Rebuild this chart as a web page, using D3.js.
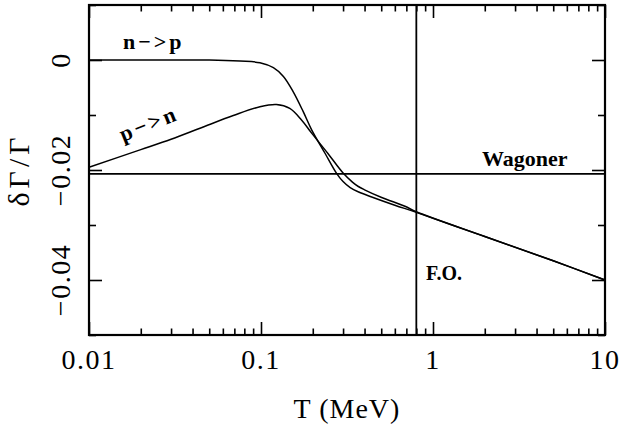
<!DOCTYPE html>
<html>
<head>
<meta charset="utf-8">
<script src="https://cdn.jsdelivr.net/npm/d3@7/dist/d3.min.js"></script>
<style>
  body { margin: 0; background: #fff; }
  svg { display: block; }
  .tick line { stroke: #000; stroke-width: 1.6; }
  .lbl { font-family: "Liberation Serif", serif; fill: #000; }
</style>
</head>
<body>
<div id="chart"></div>
<script>
var svgWidth = 622;
var svgHeight = 432;

var margin = { top: 5, right: 17, bottom: 97, left: 89 };
var width = svgWidth - margin.left - margin.right;
var height = svgHeight - margin.top - margin.bottom;

// n -> p rate correction vs temperature (MeV)
var npT = [0.01, 0.03, 0.05, 0.0755, 0.0986, 0.118, 0.135, 0.154, 0.176, 0.197, 0.236, 0.275, 0.30, 0.33, 0.37, 0.44, 0.6, 0.8, 2, 5, 10];
var npV = [0, 0, 0, -0.0002, -0.0005, -0.0014, -0.003, -0.0058, -0.0094, -0.0127, -0.017, -0.0206, -0.0221, -0.0232, -0.0240, -0.0249, -0.0264, -0.0277, -0.0321, -0.0365, -0.040];

// p -> n rate correction
var pnT = [0.01, 0.02, 0.03, 0.0442, 0.069, 0.0986, 0.123, 0.147, 0.172, 0.197, 0.245, 0.301, 0.34, 0.368, 0.4, 0.503, 0.687, 0.8, 2, 5, 10];
var pnV = [-0.0195, -0.0163, -0.0144, -0.0124, -0.0101, -0.0085, -0.0081, -0.0088, -0.0109, -0.0133, -0.017, -0.0206, -0.0222, -0.0230, -0.0236, -0.0250, -0.0266, -0.0276, -0.0321, -0.0365, -0.040];

var wagoner = -0.0207;
var freezeOut = 0.8;

var xMajor = [0.01, 0.1, 1, 10];
var xMajorLabels = ["0.01", "0.1", "1", "10"];
var xMinor = [];
[0.01, 0.1, 1].forEach(function(d) {
    for (var k = 2; k <= 9; k++) xMinor.push(d * k);
});
var yMajor = [0, -0.02, -0.04];
var yMajorLabels = ["0", "\u22120.02", "\u22120.04"];
var yMinor = [0.01, -0.01, -0.03, -0.05];

var svg = d3.select("#chart")
    .append("svg")
    .attr("width", svgWidth)
    .attr("height", svgHeight);

var chartGroup = svg.append("g")
    .attr("transform", `translate(${margin.left}, ${margin.top})`);

var xScale = d3.scaleLog().domain([0.01, 10]).range([0, width]);
var yScale = d3.scaleLinear().domain([-0.05, 0.01]).range([height, 0]);

// ticks (inward on all four sides)
function addTicks(axis, values, size, transform) {
    chartGroup.append("g")
        .attr("transform", transform)
        .call(axis.tickValues(values).tickSize(size).tickFormat(""))
        .call(g => g.select(".domain").remove());
}
addTicks(d3.axisBottom(xScale), xMajor, -13, `translate(0, ${height})`);
addTicks(d3.axisBottom(xScale), xMinor, -6.5, `translate(0, ${height})`);
addTicks(d3.axisTop(xScale), xMajor, -13, "translate(0,0)");
addTicks(d3.axisTop(xScale), xMinor, -6.5, "translate(0,0)");
addTicks(d3.axisLeft(yScale), yMajor, -13, "translate(0,0)");
addTicks(d3.axisLeft(yScale), yMinor, -7, "translate(0,0)");
addTicks(d3.axisRight(yScale), yMajor, -13, `translate(${width},0)`);
addTicks(d3.axisRight(yScale), yMinor, -7, `translate(${width},0)`);

// frame
chartGroup.append("rect")
    .attr("width", width)
    .attr("height", height)
    .attr("fill", "none")
    .attr("stroke", "#000")
    .attr("stroke-width", 2.2);

// Wagoner reference and freeze-out
chartGroup.append("line")
    .attr("x1", 0).attr("x2", width)
    .attr("y1", yScale(wagoner)).attr("y2", yScale(wagoner))
    .attr("stroke", "#000").attr("stroke-width", 1.6);

chartGroup.append("line")
    .attr("x1", xScale(freezeOut)).attr("x2", xScale(freezeOut))
    .attr("y1", 0).attr("y2", height)
    .attr("stroke", "#000").attr("stroke-width", 1.8);

var line = d3.line()
    .x(d => xScale(d[0]))
    .y(d => yScale(d[1]))
    .curve(d3.curveCatmullRom.alpha(0.5));

[[npT, npV], [pnT, pnV]].forEach(function(s) {
    chartGroup.append("path")
        .datum(d3.zip(s[0], s[1]))
        .attr("d", line)
        .attr("fill", "none")
        .attr("stroke", "#000")
        .attr("stroke-width", 1.5);
});

// tick labels
chartGroup.selectAll(".xlab")
    .data(xMajor)
    .enter()
    .append("text")
    .attr("class", "lbl")
    .attr("x", d => xScale(d))
    .attr("y", height + 34)
    .attr("text-anchor", "middle")
    .attr("font-size", "28px")
    .attr("letter-spacing", "1.5px")
    .text((d, i) => xMajorLabels[i]);

chartGroup.selectAll(".ylab")
    .data(yMajor)
    .enter()
    .append("text")
    .attr("class", "lbl")
    .attr("transform", d => `translate(-19, ${yScale(d)}) rotate(-90)`)
    .attr("text-anchor", "middle")
    .attr("font-size", "28px")
    .attr("letter-spacing", "1.5px")
    .text((d, i) => yMajorLabels[i]);

// axis titles
chartGroup.append("text")
    .attr("class", "lbl")
    .attr("x", width / 2)
    .attr("y", height + 83)
    .attr("text-anchor", "middle")
    .attr("font-size", "28px")
    .attr("letter-spacing", "1px")
    .text("T  (MeV)");

chartGroup.append("text")
    .attr("class", "lbl")
    .attr("transform", `translate(-60, ${height / 2}) rotate(-90)`)
    .attr("text-anchor", "middle")
    .attr("font-size", "30px")
    .attr("letter-spacing", "4px")
    .text("\u03b4\u0393/\u0393");

// curve labels
function note(txt, x, y, size, rot, sp) {
    chartGroup.append("text")
        .attr("class", "lbl")
        .attr("transform", `translate(${x - margin.left}, ${y - margin.top}) rotate(${rot || 0})`)
        .attr("font-size", size)
        .attr("font-weight", "bold")
        .attr("letter-spacing", sp || "0px")
        .text(txt);
}
note("n\u2212>p", 123, 49, "22px", 0, "3px");
note("p\u2212>n", 123, 142, "22px", -22, "3px");
note("Wagoner", 482, 166, "22px");
note("F.O.", 426, 280, "20px");
</script>
</body>
</html>
